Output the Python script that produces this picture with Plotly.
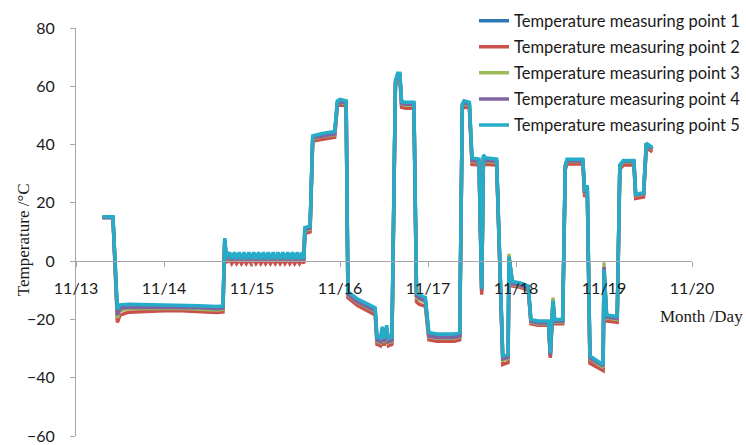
import plotly.graph_objects as go

# Day offset from 11/13 00:00
days = [0.30, 0.42, 0.47, 0.50, 0.60, 0.80, 1.00, 1.20, 1.40, 1.60, 1.67, 1.69, 1.71,
        1.745, 1.77, 1.80, 1.825, 1.855, 1.88, 1.91, 1.935, 1.965, 1.99, 2.02, 2.045, 2.075, 2.10, 2.13, 2.155,
        2.185, 2.21, 2.24, 2.265, 2.295, 2.32, 2.35, 2.375, 2.405, 2.43, 2.46, 2.485, 2.515, 2.54, 2.57, 2.59,
        2.60, 2.66, 2.69, 2.80, 2.94, 2.97, 3.00, 3.07,
        3.09, 3.20, 3.30, 3.40,
        3.42, 3.46, 3.48, 3.50, 3.53, 3.55, 3.59,
        3.63, 3.655, 3.68, 3.70, 3.75, 3.84,
        3.87, 3.90, 3.97, 4.01, 4.10, 4.20, 4.30, 4.36,
        4.39, 4.41, 4.47, 4.50, 4.58, 4.61, 4.63, 4.65, 4.78,
        4.85, 4.91, 4.92, 4.96, 5.05, 5.14,
        5.17, 5.25, 5.37, 5.39, 5.42, 5.44, 5.53,
        5.56, 5.58, 5.76, 5.78, 5.81, 5.84, 5.92, 5.99,
        6.00, 6.03, 6.15, 6.18, 6.22, 6.34, 6.36, 6.45, 6.48, 6.51, 6.55]

point1 = [15.0, 15.0, -17.5, -15.6, -15.3, -15.4, -15.5, -15.5, -15.8, -16.1, -15.9, 7.2, 0.6,
          2.6, 0.4, 2.6, 0.4, 2.6, 0.4, 2.6, 0.4, 2.6, 0.4, 2.6, 0.4, 2.6, 0.4, 2.6, 0.4,
          2.6, 0.4, 2.6, 0.4, 2.6, 0.4, 2.6, 0.4, 2.6, 0.4, 2.6, 0.4, 2.6, 0.4, 2.6, 0.4,
          11.0, 11.4, 42.5, 43.2, 43.9, 54.4, 54.8, 54.4,
          -11.2, -13.7, -15.2, -16.8,
          -27.0, -27.5, -23.5, -27.5, -23.0, -27.5, -27.0,
          61.5, 64.0, 64.0, 54.0, 53.8, 53.8,
          -11.8, -12.3, -13.3, -25.5, -26.0, -26.0, -26.0, -25.5,
          53.4, 54.4, 53.9, 34.8, 34.3, -10.2, 35.9, 34.8, 34.3,
          -33.8, -33.2, 1.0, -7.8, -8.3, -9.3,
          -20.8, -21.3, -21.3, -32.6, -14.2, -20.8, -20.8,
          32.4, 34.4, 34.4, 23.4, 25.4, -33.8, -35.3, -36.8,
          -3.6, -19.3, -19.8, 32.4, 33.9, 33.9, 22.4, 22.9, 39.9, 39.4, 38.4]

point2 = [15.0, 15.0, -21.0, -18.5, -17.5, -17.2, -17.0, -17.0, -17.3, -17.6, -17.4, 6.0, -0.5,
          0.6, -0.8, 0.6, -0.8, 0.6, -0.8, 0.6, -0.8, 0.6, -0.8, 0.6, -0.8, 0.6, -0.8, 0.6, -0.8,
          0.6, -0.8, 0.6, -0.8, 0.6, -0.8, 0.6, -0.8, 0.6, -0.8, 0.6, -0.8, 0.6, -0.8, 0.6, -0.8,
          9.5, 10.0, 41.2, 41.8, 42.5, 53.3, 53.6, 53.3,
          -12.5, -15.2, -16.8, -18.5,
          -28.5, -29.0, -25.0, -29.0, -24.5, -29.0, -28.5,
          60.0, 63.0, 63.0, 52.8, 52.5, 52.5,
          -14.0, -14.8, -15.5, -27.0, -27.5, -27.5, -27.5, -27.0,
          52.0, 53.0, 52.5, 33.2, 33.0, -11.5, 34.5, 33.2, 33.0,
          -35.5, -34.8, 0.5, -8.5, -9.0, -10.0,
          -21.5, -22.0, -22.0, -33.2, -15.0, -21.5, -21.5,
          31.5, 33.3, 33.3, 22.0, 24.5, -35.0, -36.5, -37.5,
          -4.5, -20.5, -21.0, 31.5, 33.0, 33.0, 21.5, 22.0, 38.5, 38.3, 37.5]

point3 = [15.0, 15.0, -19.5, -17.0, -16.3, -16.2, -16.2, -16.2, -16.5, -16.8, -16.6, 7.0, 0.3,
          2.2, 0.2, 2.2, 0.2, 2.2, 0.2, 2.2, 0.2, 2.2, 0.2, 2.2, 0.2, 2.2, 0.2, 2.2, 0.2,
          2.2, 0.2, 2.2, 0.2, 2.2, 0.2, 2.2, 0.2, 2.2, 0.2, 2.2, 0.2, 2.2, 0.2, 2.2, 0.2,
          10.5, 11.0, 42.0, 42.8, 43.4, 54.0, 54.5, 54.0,
          -11.5, -14.2, -15.8, -17.3,
          -27.5, -28.0, -23.8, -28.0, -23.3, -28.0, -27.5,
          61.0, 63.8, 63.8, 53.8, 53.5, 53.5,
          -12.5, -13.2, -14.0, -26.0, -26.5, -26.5, -26.5, -26.0,
          53.0, 54.0, 53.5, 34.2, 34.0, -9.0, 35.5, 34.2, 34.0,
          -34.0, -33.5, 2.5, -8.0, -8.5, -9.5,
          -21.0, -21.5, -21.5, -32.0, -12.5, -21.0, -21.0,
          32.5, 34.2, 34.2, 23.0, 25.5, -33.5, -35.0, -36.5,
          -0.5, -19.5, -20.0, 32.5, 34.0, 34.0, 22.5, 23.0, 39.5, 39.2, 38.3]

point4 = [15.0, 15.0, -18.5, -16.2, -15.8, -15.8, -15.8, -15.8, -16.0, -16.3, -16.1, 7.4, 0.5,
          2.4, 0.3, 2.4, 0.3, 2.4, 0.3, 2.4, 0.3, 2.4, 0.3, 2.4, 0.3, 2.4, 0.3, 2.4, 0.3,
          2.4, 0.3, 2.4, 0.3, 2.4, 0.3, 2.4, 0.3, 2.4, 0.3, 2.4, 0.3, 2.4, 0.3, 2.4, 0.3,
          10.8, 11.3, 42.3, 43.0, 43.6, 54.3, 54.7, 54.3,
          -11.3, -14.0, -15.5, -17.0,
          -27.2, -27.7, -23.5, -27.7, -23.0, -27.7, -27.2,
          61.3, 64.0, 64.0, 54.0, 53.8, 53.8,
          -12.0, -12.7, -13.5, -25.7, -26.2, -26.2, -26.2, -25.7,
          53.3, 54.3, 53.8, 34.5, 34.3, -9.8, 35.8, 34.5, 34.3,
          -33.5, -33.0, 1.5, -7.8, -8.3, -9.2,
          -20.7, -21.2, -21.2, -32.3, -13.8, -20.7, -20.7,
          32.7, 34.4, 34.4, 23.2, 25.2, -33.2, -34.7, -36.0,
          -2.0, -19.2, -19.7, 32.7, 34.2, 34.2, 22.7, 23.2, 39.7, 39.4, 38.5]

point5 = [15.2, 15.2, -16.5, -15.0, -14.8, -14.9, -15.0, -15.0, -15.3, -15.6, -15.4, 7.9, 1.0,
          3.0, 0.8, 3.0, 0.8, 3.0, 0.8, 3.0, 0.8, 3.0, 0.8, 3.0, 0.8, 3.0, 0.8, 3.0, 0.8,
          3.0, 0.8, 3.0, 0.8, 3.0, 0.8, 3.0, 0.8, 3.0, 0.8, 3.0, 0.8, 3.0, 0.8, 3.0, 0.8,
          11.5, 12.0, 43.0, 43.8, 44.5, 55.0, 55.5, 55.0,
          -10.5, -13.0, -14.5, -16.0,
          -26.0, -26.5, -22.5, -26.5, -22.0, -26.5, -26.0,
          62.0, 64.5, 64.5, 54.7, 54.5, 54.5,
          -11.0, -11.5, -12.5, -24.5, -25.0, -25.0, -25.0, -24.5,
          54.0, 55.0, 54.5, 35.5, 35.0, -9.5, 36.5, 35.5, 35.0,
          -32.5, -32.0, 1.5, -7.0, -7.5, -8.5,
          -20.0, -20.5, -20.5, -31.5, -13.5, -20.0, -20.0,
          33.0, 35.0, 35.0, 24.0, 26.0, -32.5, -34.0, -35.5,
          -3.0, -18.5, -19.0, 33.0, 34.5, 34.5, 23.0, 23.5, 40.5, 40.0, 39.0]

series_names = ["Temperature measuring point 1", "Temperature measuring point 2",
                "Temperature measuring point 3", "Temperature measuring point 4",
                "Temperature measuring point 5"]
series_values = [point1, point2, point3, point4, point5]
colors = ["#2E78B7", "#C9504D", "#9BBB59", "#8064A2", "#25ACC9"]

tick_vals = [0, 1, 2, 3, 4, 5, 6, 7]
tick_text = ["11/13", "11/14", "11/15", "11/16", "11/17", "11/18", "11/19", "11/20"]

for s in series_values:
    assert len(s) == len(days), (len(s), len(days))

fig = go.Figure()
for name, vals, col in zip(series_names, series_values, colors):
    fig.add_trace(go.Scatter(x=days, y=vals, mode="lines", name=name,
                             legendgroup=name,
                             line=dict(color=col, width=3.5)))

axis_col = "#A6A6A6"
tick_font = dict(family="Lato", size=16, color="#1a1a1a")

fig.update_layout(
    width=746, height=445, autosize=False,
    margin=dict(l=76, r=54, t=28, b=9, autoexpand=False),
    paper_bgcolor="white", plot_bgcolor="white",
    showlegend=True,
    legend=dict(x=0.6461, y=1.060, xanchor="left", yanchor="top",
                font=dict(family="Lato", size=16.5, color="#1a1a1a"),
                tracegroupgap=1.6, bgcolor="rgba(0,0,0,0)"),
    xaxis=dict(range=[0, 7], tickvals=tick_vals, ticktext=tick_text,
               showline=True, linecolor=axis_col, linewidth=1,
               ticks="outside", ticklen=5, tickcolor=axis_col,
               showgrid=False, zeroline=False,
               anchor="free", position=60 / 140,
               tickfont=tick_font, ticklabelstandoff=8),
    yaxis=dict(range=[-60, 80], dtick=20,
               showline=True, linecolor=axis_col, linewidth=1,
               ticks="outside", ticklen=5, tickcolor=axis_col,
               showgrid=False, zeroline=False,
               tickfont=tick_font, ticklabelstandoff=12),
    annotations=[
        dict(text="Temperature /°C", xref="paper", yref="paper",
             x=-0.086, y=0.48, xanchor="center", yanchor="middle",
             textangle=-90, showarrow=False,
             font=dict(family="Liberation Serif", size=17, color="#1a1a1a")),
        dict(text="Month /Day", xref="paper", yref="paper",
             x=1.086, y=0.2917, xanchor="right", yanchor="middle",
             showarrow=False,
             font=dict(family="Liberation Serif", size=17, color="#1a1a1a")),
    ],
)

fig.write_html("out.html")
